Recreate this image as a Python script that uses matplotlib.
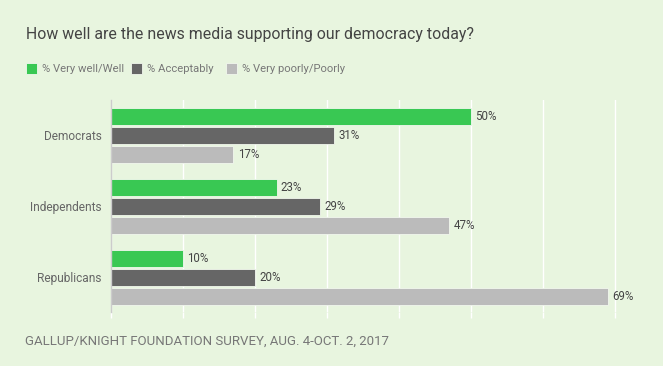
import matplotlib
matplotlib.use("Agg")
import matplotlib.pyplot as plt
from matplotlib.patches import Rectangle
import numpy as np

categories = ["Democrats", "Independents", "Republicans"]
series_names = ["% Very well/Well", "% Acceptably", "% Very poorly/Poorly"]
very_well = [50, 23, 10]
acceptably = [31, 29, 20]
very_poorly = [17, 47, 69]
title = "How well are the news media supporting our democracy today?"
source = "GALLUP/KNIGHT FOUNDATION SURVEY, AUG. 4-OCT. 2, 2017"

colors = ["#39C853", "#666666", "#BBBBBB"]
bg = "#E8F5DF"
FONT = ["Roboto", "DejaVu Sans"]
plt.rcParams["font.family"] = FONT

W, H = 663, 366
fig = plt.figure(figsize=(W / 100, H / 100), dpi=100, facecolor=bg)
ax = fig.add_axes([111 / W, 1 - 312 / H, (W - 111) / W, (312 - 100) / H])
ax.set_facecolor(bg)

pitch = 0.2665
bh = 0.238
y = np.arange(len(categories))
for i, (vals, c) in enumerate(zip([very_well, acceptably, very_poorly], colors)):
    pos = y + (i - 1) * pitch
    ax.barh(pos, vals, height=bh, color=c, edgecolor="#F2F8EE", linewidth=0.6, zorder=3)
    for p, v in zip(pos, vals):
        ax.annotate(f"{v}%", (v, p), xytext=(3.0, 0), textcoords="offset points",
                    va="center", ha="left", fontsize=8.3, color="#444444", zorder=4)

ax.set_xlim(0, (W - 111) / 7.2)
ax.set_ylim(2.49, -0.495)
ax.set_xticks(np.arange(0, 71, 10))
ax.set_xticklabels([])
ax.tick_params(axis="x", length=4, color="white", width=1)
ax.grid(axis="x", color="white", linewidth=1, zorder=1)
ax.set_yticks(y)
ax.set_yticklabels(categories, fontsize=8.6, color="#666666")
ax.tick_params(axis="y", length=0, pad=6.5)
for s in ["top", "right", "bottom"]:
    ax.spines[s].set_visible(False)
ax.spines["left"].set_color("#CCCCCC")
ax.spines["left"].set_linewidth(1)
ax.spines["left"].set_zorder(5)

fig.text(26 / W, 1 - 35 / H, title, fontsize=11.45, color="#444444", va="center", ha="left")

# legend
legend_x = [26, 131, 226]
for lx, name, c in zip(legend_x, series_names, colors):
    fig.patches.append(Rectangle((lx / W, 1 - 74 / H), 11 / W, 11 / H, transform=fig.transFigure,
                                 facecolor=c, edgecolor="#F2F8EE", linewidth=0.6))
    fig.text((lx + 16) / W, 1 - 68.5 / H, name, fontsize=8.1, color="#777777", va="center", ha="left")

fig.text(25 / W, 1 - 341 / H, source, fontsize=9.5, color="#777777", va="center", ha="left")

fig.savefig("out.png", dpi=100, facecolor=bg)
